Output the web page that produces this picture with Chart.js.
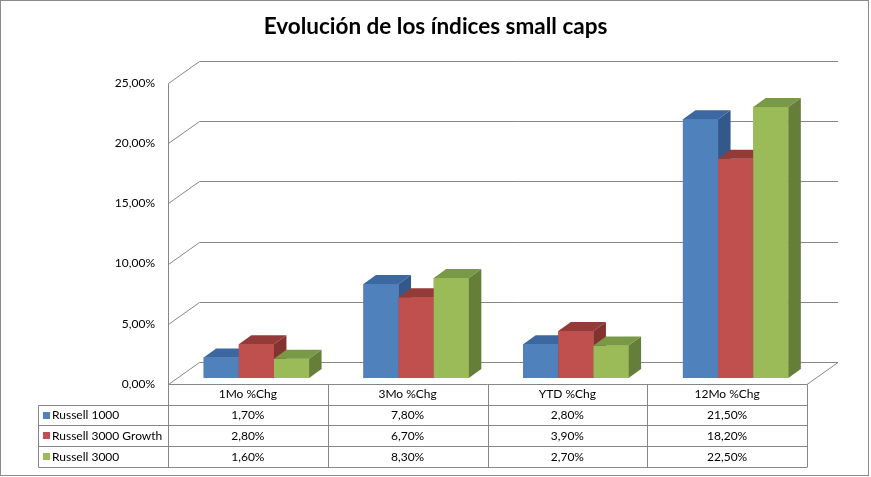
<!DOCTYPE html>
<html><head><meta charset="utf-8">
<script src="https://cdn.jsdelivr.net/npm/chart.js@4.4.0/dist/chart.umd.min.js"></script>
<style>html,body{margin:0;padding:0;background:#fff;overflow:hidden}canvas{display:block}</style>
</head><body>
<canvas id="c" width="871" height="477"></canvas>
<script>
const categories = ['1Mo %Chg', '3Mo %Chg', 'YTD %Chg', '12Mo %Chg'];
const seriesNames = ['Russell 1000', 'Russell 3000 Growth', 'Russell 3000'];
const russell1000 = [1.7, 7.8, 2.8, 21.5];
const russell3000Growth = [2.8, 6.7, 3.9, 18.2];
const russell3000 = [1.6, 8.3, 2.7, 22.5];
const yTickValues = [0, 5, 10, 15, 20, 25];
const titleText = 'Evolución de los índices small caps';

const frontColors = ['#4F81BD', '#C0504D', '#9BBB59'];
const topColors = ['#3C67A0', '#943B39', '#7A9946'];
const sideColors = ['#33588A', '#843230', '#667F38'];

const fmt = v => v.toFixed(2).replace('.', ',') + '%';
const FONT = 'Lato, "Open Sans", sans-serif';
const GRID = '#868686';

const WALL = {dx: 31, dy: -22};
const PLANE = {dx: 8.5, dy: -6};
const BAR = {dx: 12.5, dy: -9};

const threeD = {
  id: 'threeD',
  beforeDatasetsDraw(chart) {
    const {ctx, chartArea: a, scales: {y}} = chart;
    ctx.save();
    ctx.strokeStyle = GRID; ctx.lineWidth = 1;
    ctx.beginPath();
    y.ticks.forEach(t => {
      const py = Math.round(y.getPixelForValue(t.value)) + 0.5;
      ctx.moveTo(a.left + 0.5, py);
      ctx.lineTo(a.left + 0.5 + WALL.dx, py + WALL.dy);
      ctx.lineTo(a.right + WALL.dx, py + WALL.dy);
    });
    const yTop = Math.round(y.getPixelForValue(y.max)) + 0.5;
    const yBot = Math.round(y.getPixelForValue(0)) + 0.5;
    ctx.moveTo(a.left + 0.5, yTop); ctx.lineTo(a.left + 0.5, yBot);
    ctx.moveTo(a.right, yBot); ctx.lineTo(a.right + WALL.dx, yBot + WALL.dy);
    ctx.stroke();
    ctx.restore();
  },
  beforeDatasetDraw(chart) { chart.ctx.save(); chart.ctx.translate(PLANE.dx, PLANE.dy); },
  afterDatasetDraw(chart) { chart.ctx.restore(); },
  afterDatasetsDraw(chart) {
    const ctx = chart.ctx;
    ctx.save();
    ctx.translate(PLANE.dx, PLANE.dy);
    const n = chart.data.labels.length;
    for (let i = 0; i < n; i++) {
      chart.data.datasets.forEach((ds, d) => {
        const el = chart.getDatasetMeta(d).data[i];
        const {x, y, base, width} = el.getProps(['x', 'y', 'base', 'width'], true);
        const l = x - width / 2, r = x + width / 2;
        ctx.fillStyle = frontColors[d];
        ctx.fillRect(l, y, width, base - y);
        ctx.fillStyle = topColors[d];
        ctx.beginPath();
        ctx.moveTo(l, y); ctx.lineTo(l + BAR.dx, y + BAR.dy);
        ctx.lineTo(r + BAR.dx, y + BAR.dy); ctx.lineTo(r, y); ctx.closePath(); ctx.fill();
        ctx.fillStyle = sideColors[d];
        ctx.beginPath();
        ctx.moveTo(r, y); ctx.lineTo(r + BAR.dx, y + BAR.dy);
        ctx.lineTo(r + BAR.dx, base + BAR.dy); ctx.lineTo(r, base); ctx.closePath(); ctx.fill();
      });
    }
    ctx.restore();
  },
  afterDraw(chart) {
    const {ctx, chartArea: a} = chart;
    const n = chart.data.labels.length;
    const colW = a.width / n;
    const top = Math.round(a.bottom) + 0.5;
    const rows = [405.5, 425.5, 446.5, 467.5];
    const legLeft = 38.5;
    ctx.save();
    ctx.strokeStyle = GRID; ctx.lineWidth = 1;
    ctx.beginPath();
    ctx.moveTo(a.left, top); ctx.lineTo(a.right, top);
    rows.forEach(ry => { ctx.moveTo(legLeft, ry); ctx.lineTo(a.right, ry); });
    for (let c = 0; c <= n; c++) {
      const cx = Math.round(a.left + c * colW) + 0.5;
      ctx.moveTo(cx, top); ctx.lineTo(cx, rows[3]);
    }
    ctx.moveTo(legLeft, rows[0]); ctx.lineTo(legLeft, rows[3]);
    ctx.stroke();
    ctx.font = '12px ' + FONT;
    ctx.textBaseline = 'middle';
    chart.data.datasets.forEach((ds, d) => {
      const cy = (rows[d] + rows[d + 1]) / 2;
      ctx.fillStyle = frontColors[d];
      ctx.fillRect(43, Math.round(cy) - 4, 7, 7);
      ctx.fillStyle = '#000';
      ctx.textAlign = 'left';
      ctx.fillText(ds.label, 52, cy);
      ctx.textAlign = 'center';
      ds.data.forEach((v, i) => {
        ctx.fillText(fmt(v), a.left + (i + 0.5) * colW, cy);
      });
    });
    ctx.strokeStyle = '#8C8C8C';
    ctx.strokeRect(0.5, 0.5, 868, 475);
    ctx.restore();
  }
};

Chart.defaults.font.family = FONT;
Chart.defaults.color = '#000';

new Chart(document.getElementById('c'), {
  type: 'bar',
  data: {
    labels: categories,
    datasets: [
      {label: seriesNames[0], data: russell1000, backgroundColor: frontColors[0]},
      {label: seriesNames[1], data: russell3000Growth, backgroundColor: frontColors[1]},
      {label: seriesNames[2], data: russell3000, backgroundColor: frontColors[2]}
    ]
  },
  options: {
    responsive: false,
    animation: false,
    devicePixelRatio: 1,
    categoryPercentage: 0.66,
    barPercentage: 1,
    layout: {padding: 0},
    plugins: {
      legend: {display: false},
      tooltip: {enabled: false},
      title: {
        display: true, text: titleText, color: '#000',
        font: {size: 22.5, weight: 'bold', family: FONT, lineHeight: 1.2},
        padding: {top: 13.5, bottom: 42.5}
      }
    },
    scales: {
      x: {
        grid: {display: false, drawTicks: false},
        border: {display: false},
        ticks: {padding: 3, font: {size: 12}, color: '#000'},
        afterFit: s => { s.height = 93; }
      },
      y: {
        min: 0, max: 25,
        afterBuildTicks: s => { s.ticks = yTickValues.map(v => ({value: v})); },
        grid: {display: false, drawTicks: false},
        border: {display: false},
        ticks: {padding: 13, font: {size: 12}, color: '#000', callback: v => fmt(v)},
        afterFit: s => { s.width = 168; }
      },
      yRight: {
        position: 'right', min: 0, max: 25,
        grid: {display: false, drawTicks: false},
        border: {display: false},
        ticks: {display: false},
        afterFit: s => { s.width = 64; }
      }
    }
  },
  plugins: [threeD]
});
</script>
</body></html>
